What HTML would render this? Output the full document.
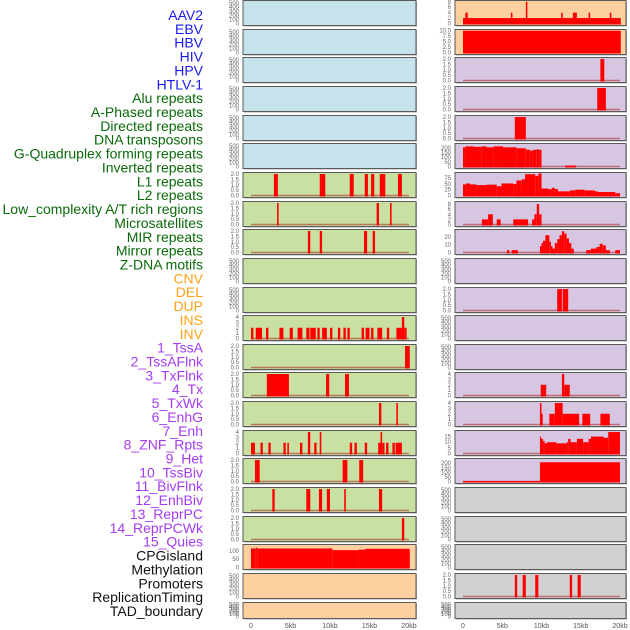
<!DOCTYPE html>
<html><head><meta charset="utf-8">
<style>
html,body{margin:0;padding:0;background:#fff;}
svg{display:block;font-family:"Liberation Sans",sans-serif;}
</style></head>
<body>
<svg id="chart" width="630" height="630" viewBox="0 0 630 630"></svg>
<script>
// ---------- data ----------
const labels = ["AAV2","EBV","HBV","HIV","HPV","HTLV-1","Alu repeats","A-Phased repeats","Directed repeats","DNA transposons","G-Quadruplex forming repeats","Inverted repeats","L1 repeats","L2 repeats","Low_complexity A/T rich regions","Microsatellites","MIR repeats","Mirror repeats","Z-DNA motifs","CNV","DEL","DUP","INS","INV","1_TssA","2_TssAFlnk","3_TxFlnk","4_Tx","5_TxWk","6_EnhG","7_Enh","8_ZNF_Rpts","9_Het","10_TssBiv","11_BivFlnk","12_EnhBiv","13_ReprPC","14_ReprPCWk","15_Quies","CPGisland","Methylation","Promoters","ReplicationTiming","TAD_boundary"];
const labelGroups = ["v","v","v","v","v","v","r","r","r","r","r","r","r","r","r","r","r","r","r","s","s","s","s","s","c","c","c","c","c","c","c","c","c","c","c","c","c","c","c","o","o","o","o","o"];
const xTickValues = [0,5,10,15,20];
const xTickLabels = ["0","5kb","10kb","15kb","20kb"];

// left column bars [startKb, endKb, value]
const leftR7 = [[2.9,3.4,2],[8.7,9.4,2],[12.5,13.0,2],[14.4,14.8,2],[15.2,15.6,2],[16.3,17.0,2],[18.6,19.1,2]];
const leftR8 = [[3.3,3.5,2],[15.9,16.2,2],[17.6,17.8,2]];
const leftR9 = [[7.2,7.5,2],[8.7,9.0,2],[14.3,14.7,2],[15.4,15.7,2]];
const leftR12 = [[0.0,0.3,2],[0.6,1.4,2],[1.9,2.2,2],[3.6,4.1,2],[4.9,5.3,2],[5.9,6.5,2],[7.0,7.4,2],[7.5,8.2,2],[8.4,8.7,2],[9.0,9.6,2],[10.0,10.3,2],[11.0,11.3,2],[11.7,12.0,2],[12.2,12.5,2],[14.0,14.3,2],[14.5,15.0,2],[15.2,15.5,2],[16.0,16.6,2],[17.2,17.5,2],[18.4,19.1,2],[19.1,19.4,4],[19.4,19.7,2]];
const leftR13 = [[19.5,20.1,2]];
const leftR14 = [[2.0,4.8,2],[9.5,9.9,2],[11.9,12.4,2]];
const leftR15 = [[16.2,16.5,2],[18.4,18.6,2]];
const leftR16 = [[0.0,0.5,2],[1.2,1.5,2],[2.2,2.5,2],[4.1,4.4,2],[4.6,4.8,2],[6.2,6.5,2],[7.2,7.5,4],[8.0,8.3,2],[8.7,8.9,4],[12.5,12.8,2],[13.1,13.4,2],[14.4,14.7,2],[16.1,16.4,2],[16.4,16.6,4],[16.6,16.9,2],[17.1,17.4,2],[17.9,18.2,2],[18.3,19.1,2]];
const leftR17 = [[0.5,1.1,2],[11.6,12.2,2],[13.7,14.2,2]];
const leftR18 = [[2.7,3.0,2],[7.0,7.5,2],[8.6,9.0,2],[9.6,10.0,2],[11.8,12.0,2],[16.2,16.6,2]];
const leftR19 = [[19.1,19.4,2]];
const leftR20 = [[0.0,0.6,115],[0.6,0.8,120],[0.8,10.3,115],[10.3,13.6,105],[13.6,14.5,108],[14.5,20.1,113]];

// right column bars
const rightR1 = [[0.0,20.1,2],[0.3,0.6,4],[6.1,6.3,4],[8.0,8.2,8],[12.5,12.7,4],[14.0,14.5,4],[16.0,16.2,4],[18.7,18.9,4]];
const rightR2 = [[0.0,20.1,10]];
const rightR3 = [[17.5,18.0,2]];
const rightR4 = [[17.1,18.2,2]];
const rightR5 = [[6.6,8.0,2]];
const rightR6 = [[0.0,0.3,205],[0.3,1.4,215],[1.4,2.4,210],[2.4,3.0,215],[3.0,3.9,205],[3.9,5.1,215],[5.1,6.8,205],[6.8,8.0,195],[8.0,8.5,180],[8.5,8.9,170],[8.9,9.4,178],[9.4,9.7,183],[9.7,10.0,178],[13.0,14.4,10]];
const rightR7 = [[0.0,0.4,48],[0.4,0.9,52],[0.9,1.7,48],[1.7,3.0,45],[3.0,4.3,47],[4.3,4.9,40],[4.9,6.4,52],[6.4,6.8,50],[6.8,7.5,65],[7.5,7.9,70],[7.9,9.2,92],[9.2,9.6,85],[9.6,10.0,95],[10.0,10.9,30],[10.9,11.3,27],[11.3,11.7,33],[11.7,12.1,28],[12.1,13.6,18],[13.6,14.3,22],[14.3,15.5,25],[15.5,16.8,22],[16.8,17.2,18],[17.2,19.4,15],[19.4,20.0,10]];
const rightR8 = [[2.4,3.2,2],[3.2,3.8,4],[4.3,4.8,2],[6.4,8.3,2],[8.8,9.1,2],[9.1,9.4,4],[9.4,9.7,8],[9.7,10.0,4]];
const rightR9 = [[5.6,5.9,3],[6.2,7.0,3],[9.8,10.0,8],[10.0,10.2,12],[10.2,10.5,15],[10.5,11.0,22],[11.0,11.2,14],[11.2,11.4,8],[11.4,11.7,5],[11.7,12.0,12],[12.0,12.3,17],[12.3,12.6,22],[12.6,12.9,27],[12.9,13.2,24],[13.2,13.5,18],[13.5,13.8,12],[13.8,14.1,5],[15.7,16.3,3],[16.3,17.0,5],[17.0,17.4,7],[17.4,17.8,11],[17.8,18.2,9],[18.2,18.7,3],[19.4,20.0,3]];
const rightR11 = [[12.0,12.6,2],[12.7,13.4,2]];
const rightR14 = [[9.9,10.6,2],[12.6,12.9,4],[12.9,13.6,2]];
const rightR15 = [[9.8,10.0,4],[10.0,10.1,2],[11.0,11.7,2],[11.7,12.7,4],[12.7,14.8,2],[15.2,16.2,2],[17.5,18.7,2]];
const rightR16 = [[9.8,9.9,15],[9.9,10.2,13],[10.2,10.4,11],[10.4,10.7,9],[10.7,11.9,10],[11.9,13.2,9],[13.2,13.4,10],[13.4,13.7,13],[13.7,14.5,10],[14.5,15.3,13],[15.3,16.0,10],[16.0,16.3,13],[16.3,17.9,15],[17.9,18.5,14],[18.5,20.0,19]];
const rightR17 = [[0.0,9.8,5],[9.8,20.0,210]];
const rightR21 = [[6.6,6.9,2],[7.6,8.0,2],[9.2,9.6,2],[13.6,13.9,2],[14.6,15.0,2]];

// y-axis scales: tick values and axis max
const ticks500 = [0,100,200,300,400,500];
const ticks2 = [0,0.5,1,1.5,2];
const ticks4 = [0,1,2,3,4];
const ticks8 = [0,2,4,6,8];
const ticks10 = [0,2.5,5,7.5,10];
const ticks240 = [0,50,100,150,200];
const ticks75 = [0,25,50,75];
const ticks20 = [0,10,20];
const ticks15 = [0,5,10,15];
const ticks100 = [0,50,100];

// ---------- rendering ----------
const svg = document.getElementById('chart');
const NS = 'http://www.w3.org/2000/svg';
function mk(tag, attrs){const e=document.createElementNS(NS,tag);for(const k in attrs)e.setAttribute(k,attrs[k]);return e;}

const colors = {v:'#1a1aee',r:'#0a6a0a',s:'#ffa21a',c:'#a43cf0',o:'#111'};
labels.forEach((t,i)=>{
  const y = 15 + i*13.86;
  const el = mk('text',{x:203,y:y+5,'text-anchor':'end','font-size':14,fill:colors[labelGroups[i]]});
  el.textContent = t;
  
  
  svg.appendChild(el);
});

const BG = {b:'#c6e3ec',g:'#c8e0a2',o:'#fecf9f',p:'#d6c6e2',y:'#d1d1d1'};
const cols = {
  L:{x0:243,x1:416,zero:251,pxkb:7.9},
  R:{x0:455,x1:626,zero:463,pxkb:7.85}
};
function fmt(t, tk){ const dec = tk.some(v=>v%1!==0) || tk===ticks2 || tk===ticks10; return dec ? t.toFixed(1) : String(t); }

const panels = [];
for(let r=0;r<22;r++){
  let lbg = r<6?'b':(r<19?'g':'o');
  let rbg = r<2?'o':(r<17?'p':'y');
  panels.push({side:'L',row:r,bg:lbg,ticks:ticks500,ymax:540,bars:[],base:false});
  panels.push({side:'R',row:r,bg:rbg,ticks:ticks500,ymax:540,bars:[],base:false});
}
function setP(side,row,ticks,ymax,bars,base){
  const p=panels.find(q=>q.side===side&&q.row===row);
  p.ticks=ticks;p.ymax=ymax;p.bars=bars;p.base=base;
}
setP('L',6,ticks2,2.05,leftR7,true);
setP('L',7,ticks2,2.05,leftR8,true);
setP('L',8,ticks2,2.05,leftR9,true);
setP('L',11,ticks4,4.1,leftR12,true);
setP('L',12,ticks2,2.05,leftR13,true);
setP('L',13,ticks2,2.05,leftR14,true);
setP('L',14,ticks2,2.05,leftR15,true);
setP('L',15,ticks4,4.1,leftR16,true);
setP('L',16,ticks2,2.05,leftR17,true);
setP('L',17,ticks2,2.05,leftR18,true);
setP('L',18,ticks2,2.05,leftR19,true);
setP('L',19,ticks100,133,leftR20,false);
setP('R',0,ticks8,8.1,rightR1,false);
setP('R',1,ticks10,10.1,rightR2,false);
setP('R',2,ticks2,2.05,rightR3,true);
setP('R',3,ticks2,2.05,rightR4,true);
setP('R',4,ticks2,2.05,rightR5,true);
setP('R',5,ticks240,235,rightR6,true);
setP('R',6,ticks75,95,rightR7,true);
setP('R',7,ticks4.map(v=>v*2),8.6,rightR8,true);
setP('R',8,ticks20,28,rightR9,true);
setP('R',10,ticks2,2.05,rightR11,true);
setP('R',13,ticks4,4.1,rightR14,true);
setP('R',14,ticks4,4.1,rightR15,true);
setP('R',15,ticks15,19.5,rightR16,true);
setP('R',16,ticks240,240,rightR17,true);
setP('R',20,ticks2,2.05,rightR21,true);

panels.forEach(p=>{
  const c = cols[p.side];
  const top = Math.round(p.row*28.65)+0.5;
  const h = p.row===21 ? 16 : 25;
  const g = mk('g',{});
  
  
  svg.appendChild(g);
  g.appendChild(mk('rect',{x:c.x0+1,y:top+1,width:c.x1-c.x0,height:h,fill:'#aaa'}));
  g.appendChild(mk('rect',{x:c.x0,y:top,width:c.x1-c.x0,height:h,fill:BG[p.bg],stroke:'#5a5a5a','stroke-width':1}));
  const yb = top+h-2, yt = top+1;
  const ys = v => yb - v/p.ymax*(yb-yt);
  const xs = k => c.zero + k*c.pxkb;
  if(p.base){
    g.appendChild(mk('line',{x1:xs(0),x2:xs(20),y1:yb,y2:yb,stroke:'#b03030','stroke-width':1.5,opacity:0.6}));
  }
  p.bars.forEach(b=>{
    const x1=xs(b[0]), x2=xs(b[1]);
    const r = mk('rect',{x:x1,y:ys(b[2]),width:Math.max(1.2,x2-x1),height:yb-ys(b[2])+1,fill:'#ff0000'});
    
    
    g.appendChild(r);
  });
  p.ticks.forEach(t=>{
    const tx = mk('text',{x:c.x0-4,y:ys(t)+2,'text-anchor':'end','font-size':6,fill:'#666'});
    tx.textContent = fmt(t,p.ticks);
    
    
    g.appendChild(tx);
  });
});

['L','R'].forEach(s=>{
  const c=cols[s];
  xTickValues.forEach((v,i)=>{
    const t = mk('text',{x:c.zero+v*c.pxkb,y:628,'text-anchor':'middle','font-size':7,fill:'#555'});
    t.textContent = xTickLabels[i];
    
    
    svg.appendChild(t);
  });
});
</script>
</body></html>
